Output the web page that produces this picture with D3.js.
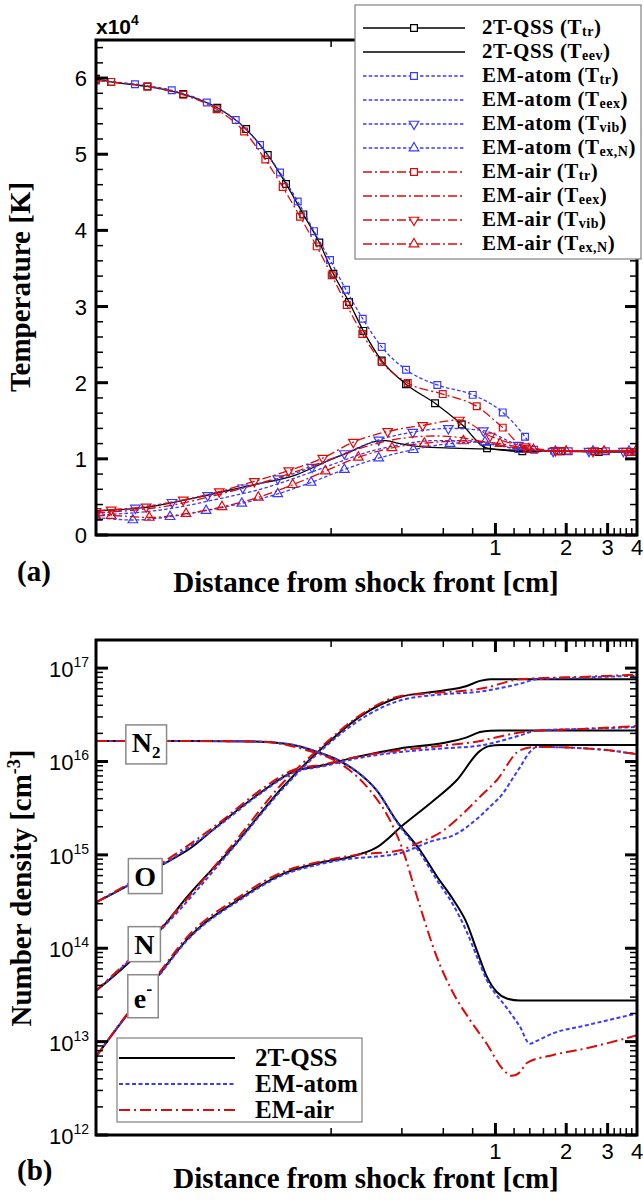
<!DOCTYPE html>
<html><head><meta charset="utf-8">
<script src="https://cdn.jsdelivr.net/npm/d3@7"></script>
<style>body{margin:0;background:#fff}svg{display:block}</style>
</head><body>
<svg id="chart" width="643" height="1200"></svg>
<script>
// ---------------- data ----------------
// x: distance from shock front [cm]; temperatures in units of 1e4 K
const xTickLabels = [1, 2, 3, 4];
const tempTickLabels = [0, 1, 2, 3, 4, 5, 6];
const densTickExps = [12, 13, 14, 15, 16, 17];

const qssTtr = [[0.0200,5.99],[0.0232,5.95],[0.0331,5.89],[0.0470,5.79],[0.0656,5.61],[0.0870,5.33],[0.1075,4.99],[0.1286,4.61],[0.1524,4.21],[0.1782,3.84],[0.2044,3.43],[0.2384,3.06],[0.2742,2.68],[0.3283,2.29],[0.4166,1.98],[0.5535,1.73],[0.7190,1.45],[0.9211,1.14],[1.3013,1.10],[1.90,1.10],[2.75,1.09],[3.95,1.09]];
const qssTeev = [[0.02,0.32],[0.034,0.37],[0.0533,0.49],[0.0869,0.64],[0.142,0.79],[0.196,0.98],[0.232,1.07],[0.311,1.23],[0.343,1.24],[0.378,1.21],[0.478,1.16],[0.66,1.14],[0.92,1.13],[1.27,1.11],[2.0,1.10],[4.0,1.10]];
const atomTtr = [[0.0200,5.97],[0.0293,5.92],[0.0420,5.84],[0.0592,5.68],[0.0786,5.45],[0.0997,5.12],[0.1213,4.76],[0.1442,4.38],[0.1692,3.99],[0.1979,3.61],[0.2315,3.22],[0.2726,2.84],[0.3283,2.47],[0.4166,2.17],[0.5661,1.97],[0.8005,1.84],[1.0741,1.61],[1.3362,1.29],[1.46,1.12],[2.05,1.10],[2.95,1.10],[3.9,1.09]];
const atomTeex = [[0.02,0.26],[0.04,0.34],[0.07,0.49],[0.1,0.60],[0.15,0.78],[0.2,0.92],[0.28,1.08],[0.4,1.19],[0.55,1.24],[0.75,1.24],[1.0,1.18],[1.4,1.11],[2,1.10],[4,1.10]];
const atomTvib = [[0.0200,0.275],[0.0294,0.355],[0.0421,0.43],[0.0597,0.52],[0.0842,0.62],[0.1186,0.74],[0.1659,0.89],[0.2277,1.07],[0.3188,1.25],[0.4448,1.35],[0.6304,1.40],[0.8882,1.37],[1.2515,1.18],[1.76,1.10],[2.5,1.10],[3.5,1.10]];
const atomTexN = [[0.0200,0.23],[0.0287,0.197],[0.0413,0.24],[0.0588,0.32],[0.0834,0.415],[0.1186,0.54],[0.1643,0.69],[0.2277,0.86],[0.3188,1.01],[0.4475,1.12],[0.6409,1.20],[0.9032,1.22],[1.27,1.12],[1.8,1.10],[2.6,1.10],[3.7,1.10]];
const airTtr = [[0.0200,5.97],[0.0232,5.95],[0.0331,5.89],[0.0470,5.78],[0.0652,5.59],[0.0853,5.30],[0.1050,4.93],[0.1245,4.57],[0.1475,4.18],[0.1737,3.79],[0.2012,3.41],[0.2331,3.02],[0.2715,2.64],[0.3283,2.27],[0.4236,1.995],[0.5968,1.85],[0.8327,1.69],[1.0741,1.41],[1.36,1.13],[1.85,1.10],[2.65,1.10],[3.75,1.09]];
const airTeex = [[0.02,0.29],[0.04,0.38],[0.07,0.55],[0.1,0.68],[0.15,0.86],[0.2,1.00],[0.28,1.16],[0.4,1.27],[0.55,1.30],[0.75,1.27],[1.0,1.19],[1.4,1.12],[2,1.10],[4,1.10]];
const airTvib = [[0.0200,0.31],[0.0232,0.33],[0.0327,0.37],[0.0470,0.46],[0.0669,0.57],[0.0943,0.705],[0.1321,0.846],[0.1842,1.01],[0.2486,1.22],[0.3482,1.36],[0.4906,1.44],[0.7023,1.51],[0.9485,1.30],[1.3362,1.16],[1.80,1.11],[2.6,1.10],[3.6,1.10]];
const airTexN = [[0.0200,0.25],[0.0232,0.254],[0.0337,0.23],[0.0483,0.28],[0.0687,0.37],[0.0981,0.495],[0.1373,0.66],[0.1890,0.84],[0.2611,1.02],[0.3632,1.145],[0.4983,1.205],[0.7303,1.235],[1.0461,1.20],[1.45,1.12],[2.0,1.10],[2.9,1.10],[3.95,1.10]];

// number densities [cm^-3]
const n2Qss = [[0.02,1.66e16],[0.05,1.66e16],[0.1,1.63e16],[0.1475,1.45e16],[0.1737,1.27e16],[0.2113,1.05e16],[0.257,7.8e15],[0.3126,4.9e15],[0.3803,2.3e15],[0.478,1.12e15],[0.563,5.9e14],[0.662,3.3e14],[0.755,1.86e14],[0.833,9.5e13],[0.918,5.0e13],[1.013,3.4e13],[1.117,2.9e13],[1.27,2.75e13],[4,2.75e13]];
const n2Atom = [[0.02,1.66e16],[0.05,1.66e16],[0.1,1.63e16],[0.1475,1.45e16],[0.1737,1.27e16],[0.2113,1.05e16],[0.257,7.8e15],[0.3126,4.9e15],[0.3803,2.25e15],[0.478,1.05e15],[0.563,5.4e14],[0.662,2.9e14],[0.755,1.5e14],[0.833,8.2e13],[0.918,4.6e13],[1.117,2.3e13],[1.27,1.45e13],[1.40,9.5e12],[1.50,1.02e13],[1.763,1.23e13],[2.445,1.5e13],[4,2.0e13]];
const n2Air = [[0.02,1.66e16],[0.05,1.66e16],[0.1,1.63e16],[0.1575,1.32e16],[0.2113,1.0e16],[0.2407,8.0e15],[0.2928,4.9e15],[0.3561,2.34e15],[0.40,1.2e15],[0.47,3.2e14],[0.5627,8.1e13],[0.662,3.3e13],[0.78,1.7e13],[0.918,9.5e12],[1.08,5.0e12],[1.173,4.3e12],[1.27,4.7e12],[1.359,5.9e12],[1.763,7.2e12],[2.445,8.5e12],[4,1.17e13]];
const oQss = [[0.02,3.1e14],[0.0274,4.7e14],[0.0374,7.6e14],[0.0502,1.17e15],[0.0652,2.0e15],[0.0997,4.6e15],[0.1381,7.8e15],[0.1853,9.1e15],[0.257,1.12e16],[0.3928,1.38e16],[0.6004,1.58e16],[0.75,1.8e16],[0.86,2.07e16],[0.95,2.14e16],[1.05,2.15e16],[4,2.15e16]];
const oAtom = [[0.02,3.1e14],[0.0374,7.5e14],[0.0652,1.97e15],[0.0997,4.5e15],[0.1381,7.6e15],[0.1853,8.9e15],[0.257,1.08e16],[0.3928,1.26e16],[0.6004,1.38e16],[0.86,1.48e16],[1.013,1.62e16],[1.27,1.9e16],[1.4985,2.14e16],[2.445,2.24e16],[4,2.34e16]];
const oAir = [[0.02,3.1e14],[0.0374,7.9e14],[0.0652,2.1e15],[0.0997,4.9e15],[0.1381,8.1e15],[0.1853,9.3e15],[0.257,1.12e16],[0.3928,1.32e16],[0.6004,1.48e16],[0.86,1.66e16],[1.013,1.82e16],[1.359,2.09e16],[2.445,2.24e16],[4,2.4e16]];
const nQss = [[0.02,3.5e13],[0.0274,6.9e13],[0.038,1.62e14],[0.0486,3.5e14],[0.0768,1.23e15],[0.1253,5.4e15],[0.1853,1.43e16],[0.2742,3.2e16],[0.3928,4.9e16],[0.6004,5.75e16],[0.75,6.4e16],[0.86,7.3e16],[0.95,7.6e16],[1.05,7.6e16],[4,7.6e16]];
const nAtom = [[0.02,3.5e13],[0.038,1.6e14],[0.0768,1.2e15],[0.1253,5.2e15],[0.1853,1.38e16],[0.2742,2.95e16],[0.3928,4.5e16],[0.6004,5.25e16],[0.86,5.6e16],[0.918,5.75e16],[1.27,6.8e16],[1.4985,7.6e16],[2.445,7.95e16],[4,8.3e16]];
const nAir = [[0.02,3.5e13],[0.038,1.68e14],[0.0768,1.32e15],[0.1253,6.0e15],[0.1853,1.5e16],[0.2742,3.3e16],[0.3928,5.0e16],[0.6004,5.5e16],[0.86,6.0e16],[0.918,6.2e16],[1.27,7.6e16],[2.445,8.1e16],[4,8.5e16]];
const eQss = [[0.02,6.9e12],[0.0274,2.0e13],[0.0364,4.9e13],[0.0486,1.23e14],[0.082,3.4e14],[0.1253,6.3e14],[0.1737,8.1e14],[0.2407,9.5e14],[0.3126,1.2e15],[0.4058,2.1e15],[0.5444,3.8e15],[0.6842,6.3e15],[0.86,1.3e16],[0.94,1.46e16],[1.05,1.5e16],[4,1.5e16]];
const eAtom = [[0.02,6.9e12],[0.0274,2.0e13],[0.0364,4.8e13],[0.0486,1.2e14],[0.082,3.3e14],[0.1253,6.1e14],[0.1737,7.8e14],[0.2407,9.1e14],[0.3126,9.6e14],[0.38,1.02e15],[0.5444,1.42e15],[0.662,1.62e15],[0.86,2.6e15],[0.95,3.3e15],[1.08,4.6e15],[1.17,6.3e15],[1.2725,8.7e15],[1.40,1.26e16],[1.4985,1.43e16],[2.445,1.38e16],[4,1.2e16]];
const eAir = [[0.02,6.9e12],[0.0274,2.05e13],[0.0364,5.1e13],[0.0486,1.3e14],[0.082,3.6e14],[0.1253,6.6e14],[0.1737,8.3e14],[0.257,1.0e15],[0.3928,1.12e15],[0.4627,1.32e15],[0.6004,1.82e15],[0.72,2.7e15],[0.86,4.2e15],[1.013,6.3e15],[1.2725,1.32e16],[1.4985,1.43e16],[2.445,1.38e16],[4,1.2e16]];

// species tags: [label, subscript/superscript, x, n]
const speciesTags = [["N","2",0.0327,1.62e16],["O","",0.0324,6.0e14],["N","",0.0321,1.12e14],["e","-",0.0317,2.95e13]];

// ---------------- setup ----------------
const svg = d3.select("#chart");
const SERIF = '"Liberation Serif","Times New Roman",serif';
const SANS = '"Liberation Sans",Arial,Helvetica,sans-serif';
const BLACK = "#000", BLUE = "#3a3aff", RED = "#dd0a0a";
const L = 96, R = 637;

const x = d3.scaleLog().domain([0.02, 4]).range([L, R]);
const yT = d3.scaleLinear().domain([0, 6.5]).range([535, 40]);
const yN = d3.scaleLog().domain([1e12, 2e17]).range([1135, 640]);

const xMajor = [1, 2, 3];
const xMinor = d3.range(1, 20).map(i => +(i * 0.2).toFixed(1)).filter(v => Math.abs(v - Math.round(v)) > 1e-6);
const tMinor = d3.range(0, 33).map(i => +(i * 0.2).toFixed(1)).filter(v => Math.abs(v - Math.round(v)) > 1e-6 && v < 6.5);
const nMinor = [];
densTickExps.forEach(e => { for (let k = 2; k <= 9; k++) { const v = k * Math.pow(10, e); if (v < 2e17) nMinor.push(v); } });
const nMajor = densTickExps.map(e => Math.pow(10, e));

const defs = svg.append("defs");
function clip(id, top, bottom) {
  defs.append("clipPath").attr("id", id).append("rect")
    .attr("x", L).attr("y", top).attr("width", R - L).attr("height", bottom - top);
}
clip("clipA", 40, 535);
clip("clipB", 640, 1135);

function seg(g, x1, y1, x2, y2, w) {
  g.append("line").attr("x1", x1).attr("y1", y1).attr("x2", x2).attr("y2", y2).attr("stroke-width", w);
}

function axesFrame(top, bottom, yScale, yMajor, yMinor) {
  const g = svg.append("g").attr("stroke", "#000").attr("fill", "none");
  xMajor.forEach(v => { const p = x(v); seg(g, p, bottom, p, bottom - 12, 3); seg(g, p, top, p, top + 12, 3); });
  xMinor.forEach(v => { const p = x(v); seg(g, p, bottom, p, bottom - 7, 1.5); seg(g, p, top, p, top + 7, 1.5); });
  yMajor.forEach(v => { const p = yScale(v); seg(g, L, p, L + 12, p, 3); seg(g, R, p, R - 12, p, 3); });
  yMinor.forEach(v => { const p = yScale(v); seg(g, L, p, L + 7, p, 1.5); seg(g, R, p, R - 7, p, 1.5); });
  g.append("rect").attr("x", L).attr("y", top).attr("width", R - L).attr("height", bottom - top)
    .attr("stroke-width", 3);
}

function xLabels(baseY) {
  svg.append("g").selectAll("text").data(xTickLabels).join("text")
    .attr("x", d => x(d)).attr("y", baseY).attr("text-anchor", "middle")
    .attr("font-family", SANS).attr("font-size", 22).text(d => d);
}

function markerPath(type) {
  if (type === "square") return d3.symbol(d3.symbolSquare, 46)();
  return d3.symbol(d3.symbolTriangle, 40)();
}

// ---------------- panel (a): temperatures ----------------
const tempSeries = [
  { data: qssTtr, color: BLACK, dash: null, marker: "square", model: "2T-QSS", sub: "tr" },
  { data: qssTeev, color: BLACK, dash: null, marker: null, model: "2T-QSS", sub: "eev" },
  { data: atomTtr, color: BLUE, dash: "3.5,2.2", marker: "square", model: "EM-atom", sub: "tr" },
  { data: atomTeex, color: BLUE, dash: "3.5,2.2", marker: null, model: "EM-atom", sub: "eex" },
  { data: atomTvib, color: BLUE, dash: "3.5,2.2", marker: "down", model: "EM-atom", sub: "vib" },
  { data: atomTexN, color: BLUE, dash: "3.5,2.2", marker: "up", model: "EM-atom", sub: "ex,N" },
  { data: airTtr, color: RED, dash: "9,3,2,3", marker: "square", model: "EM-air", sub: "tr" },
  { data: airTeex, color: RED, dash: "9,3,2,3", marker: null, model: "EM-air", sub: "eex" },
  { data: airTvib, color: RED, dash: "9,3,2,3", marker: "down", model: "EM-air", sub: "vib" },
  { data: airTexN, color: RED, dash: "9,3,2,3", marker: "up", model: "EM-air", sub: "ex,N" }
];

const lineT = d3.line().x(d => x(d[0])).y(d => yT(d[1])).curve(d3.curveMonotoneX);
const gA = svg.append("g").attr("clip-path", "url(#clipA)");
tempSeries.forEach(s => {
  gA.append("path").attr("d", lineT(s.data)).attr("fill", "none")
    .attr("stroke", s.color).attr("stroke-width", 1.3)
    .attr("stroke-dasharray", s.dash);
  if (s.marker) {
    gA.append("g").selectAll("path").data(s.data).join("path")
      .attr("d", markerPath(s.marker))
      .attr("transform", d => `translate(${x(d[0])},${yT(d[1])})` + (s.marker === "down" ? " rotate(180)" : ""))
      .attr("fill", "none").attr("stroke", s.color).attr("stroke-width", 1.2);
  }
});

axesFrame(40, 535, yT, tempTickLabels, tMinor);
xLabels(555);
svg.append("g").selectAll("text").data(tempTickLabels).join("text")
  .attr("x", 87).attr("y", d => yT(d) + 8).attr("text-anchor", "end")
  .attr("font-family", SANS).attr("font-size", 22).text(d => d);

// multiplier
const mult = svg.append("text").attr("x", 96).attr("y", 34)
  .attr("font-family", SANS).attr("font-weight", "bold").attr("font-size", 21);
mult.append("tspan").text("x10");
mult.append("tspan").attr("dy", -9).attr("font-size", 14).text("4");

// axis titles
svg.append("text").attr("transform", "translate(30,287) rotate(-90)")
  .attr("text-anchor", "middle").attr("font-family", SERIF).attr("font-weight", "bold")
  .attr("font-size", 29).text("Temperature [K]");
svg.append("text").attr("x", 366).attr("y", 592).attr("text-anchor", "middle")
  .attr("font-family", SERIF).attr("font-weight", "bold").attr("font-size", 29)
  .text("Distance from shock front [cm]");
svg.append("text").attr("x", 17).attr("y", 581).attr("font-family", SERIF)
  .attr("font-weight", "bold").attr("font-size", 29).text("(a)");

// legend (a)
const legA = svg.append("g");
legA.append("rect").attr("x", 355).attr("y", 5).attr("width", 286).attr("height", 254)
  .attr("fill", "#fff").attr("stroke", "#808080").attr("stroke-width", 1.2);
tempSeries.forEach((s, i) => {
  const yy = 28 + i * 24;
  legA.append("line").attr("x1", 363).attr("x2", 465).attr("y1", yy).attr("y2", yy)
    .attr("stroke", s.color).attr("stroke-width", 1.5).attr("stroke-dasharray", s.dash);
  if (s.marker) {
    legA.append("path").attr("d", markerPath(s.marker))
      .attr("transform", `translate(414,${yy})` + (s.marker === "down" ? " rotate(180)" : ""))
      .attr("fill", "#fff").attr("stroke", s.color).attr("stroke-width", 1.2);
  }
  const t = legA.append("text").attr("x", 482).attr("y", yy + 6)
    .attr("font-family", SERIF).attr("font-weight", "bold").attr("font-size", 21)
    .attr("letter-spacing", 0.5);
  t.append("tspan").text(s.model + " (T");
  t.append("tspan").attr("dy", 2).attr("font-size", 14).text(s.sub);
  t.append("tspan").attr("dy", -2).attr("font-size", 21).text(")");
});

// ---------------- panel (b): number densities ----------------
const models = [
  { name: "2T-QSS", color: BLACK, dash: null, sets: [n2Qss, oQss, nQss, eQss] },
  { name: "EM-atom", color: BLUE, dash: "4,2.5", sets: [n2Atom, oAtom, nAtom, eAtom] },
  { name: "EM-air", color: RED, dash: "11,4,2,4", sets: [n2Air, oAir, nAir, eAir] }
];
const lineN = d3.line().x(d => x(d[0])).y(d => yN(d[1])).curve(d3.curveMonotoneX);
const gB = svg.append("g").attr("clip-path", "url(#clipB)");
models.forEach(m => {
  m.sets.forEach(set => {
    gB.append("path").attr("d", lineN(set)).attr("fill", "none")
      .attr("stroke", m.color).attr("stroke-width", 2)
      .attr("stroke-dasharray", m.dash);
  });
});

axesFrame(640, 1135, yN, nMajor, nMinor);
xLabels(1159);
const yLabB = svg.append("g").selectAll("text").data(densTickExps).join("text")
  .attr("x", 89).attr("y", d => yN(Math.pow(10, d)) + 9).attr("text-anchor", "end")
  .attr("font-family", SANS).attr("font-size", 22);
yLabB.append("tspan").text("10");
yLabB.append("tspan").attr("dy", -10).attr("font-size", 14).text(d => d);

const nTitle = svg.append("text").attr("transform", "translate(31,888) rotate(-90)")
  .attr("text-anchor", "middle").attr("font-family", SERIF).attr("font-weight", "bold")
  .attr("font-size", 29);
nTitle.append("tspan").text("Number density [cm");
nTitle.append("tspan").attr("dy", -11).attr("font-size", 18).text("-3");
nTitle.append("tspan").attr("dy", 11).text("]");
svg.append("text").attr("x", 366).attr("y", 1188).attr("text-anchor", "middle")
  .attr("font-family", SERIF).attr("font-weight", "bold").attr("font-size", 29)
  .text("Distance from shock front [cm]");
svg.append("text").attr("x", 17).attr("y", 1180).attr("font-family", SERIF)
  .attr("font-weight", "bold").attr("font-size", 29).text("(b)");

// species tags
speciesTags.forEach(([lab, extra, xv, nv]) => {
  const g = svg.append("g").attr("transform", `translate(${x(xv)},${yN(nv)})`);
  const t = g.append("text").attr("text-anchor", "middle").attr("y", 10)
    .attr("font-family", SERIF).attr("font-weight", "bold").attr("font-size", 28);
  t.append("tspan").text(lab);
  if (extra === "2") t.append("tspan").attr("dy", 6).attr("font-size", 17).text(extra);
  if (extra === "-") t.append("tspan").attr("dy", -13).attr("font-size", 18).text(extra);
  const bb = t.node().getBBox();
  const padX = 6, padY = extra === "-" ? 4 : 2;
  g.insert("rect", "text").attr("x", bb.x - padX).attr("y", bb.y - padY)
    .attr("width", bb.width + 2 * padX).attr("height", bb.height + 2 * padY)
    .attr("fill", "#fff").attr("stroke", "#8a8a8a").attr("stroke-width", 1.5);
});

// legend (b)
const legB = svg.append("g");
legB.append("rect").attr("x", 117).attr("y", 1038).attr("width", 245).attr("height", 84)
  .attr("fill", "#fff").attr("stroke", "#808080").attr("stroke-width", 1.2);
models.forEach((m, i) => {
  const yy = 1058 + i * 26;
  legB.append("line").attr("x1", 119).attr("x2", 235).attr("y1", yy).attr("y2", yy)
    .attr("stroke", m.color).attr("stroke-width", 2).attr("stroke-dasharray", m.dash);
  legB.append("text").attr("x", 255).attr("y", yy + 8)
    .attr("font-family", SERIF).attr("font-weight", "bold").attr("font-size", 25).text(m.name);
});
</script>
</body></html>
